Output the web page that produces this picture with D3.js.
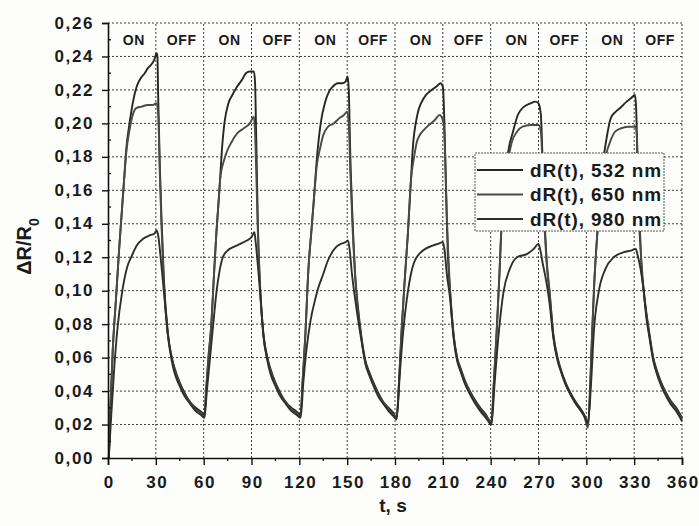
<!DOCTYPE html>
<html>
<head>
<meta charset="utf-8">
<script src="https://cdn.jsdelivr.net/npm/d3@7"></script>
<style>
  body { margin: 0; background: #fdfdfb; }
  svg { display: block; font-family: "Liberation Sans", Arial, sans-serif; }
  .tick-label { font-size: 17px; font-weight: bold; fill: #1a1a1a; letter-spacing: 1.6px; }
</style>
</head>
<body>
<div id="chart"></div>
<script>
var w = 699, h = 526;

// tick values and labels
var xTicks = [0, 30, 60, 90, 120, 150, 180, 210, 240, 270, 300, 330, 360];
var yTicks = [0, 0.02, 0.04, 0.06, 0.08, 0.10, 0.12, 0.14, 0.16, 0.18, 0.20, 0.22, 0.24, 0.26];
var phaseLabels = ["ON", "OFF", "ON", "OFF", "ON", "OFF", "ON", "OFF", "ON", "OFF", "ON", "OFF"];
var seriesNames = ["dR(t), 532 nm", "dR(t), 650 nm", "dR(t), 980 nm"];

// dR(t), 532 nm  [t (s), dR/R0]
var dr532 = [
  [0.5,0],[1.5,0.03],[3,0.065],[5,0.095],[7,0.125],[8.5,0.145],[10,0.165],[11.5,0.185],[13.5,0.2],
  [15.5,0.212],[18,0.222],[20.5,0.227],[23,0.23],[25,0.233],[27,0.235],[29,0.238],[30.5,0.242],
  [31,0.24],[31.5,0.215],[32.5,0.175],[33.5,0.145],[35,0.108],[37.5,0.075],[40,0.06],[42,0.053],
  [45,0.045],[48,0.039],[51,0.034],[55,0.03],[58,0.028],[60.5,0.026],
  [61.5,0.04],[63,0.06],[64.8,0.08],[66.5,0.11],[68,0.135],[69.5,0.155],[70.5,0.17],[71.5,0.185],
  [73,0.2],[75.5,0.212],[78,0.217],[81,0.222],[84,0.226],[86.5,0.23],[89,0.231],[91.5,0.231],
  [92.2,0.225],[93,0.19],[94,0.14],[95.5,0.1],[97.5,0.074],[100,0.06],[102,0.053],[105,0.045],
  [108,0.039],[111,0.034],[115,0.03],[118,0.028],[120.8,0.026],
  [122,0.045],[123.8,0.074],[125.7,0.113],[127.5,0.135],[129,0.153],[131,0.179],[133.4,0.2],
  [136,0.212],[138.6,0.219],[141,0.222],[144,0.224],[147,0.224],[149,0.225],[150.3,0.228],
  [151,0.22],[152,0.18],[153.5,0.14],[155,0.11],[156.8,0.09],[159,0.072],[161.5,0.058],
  [164,0.051],[167,0.044],[170,0.038],[173,0.033],[176,0.03],[179,0.027],[181,0.024],
  [182.5,0.045],[184,0.074],[186,0.105],[188,0.133],[190,0.166],[191,0.183],[194,0.205],
  [198,0.215],[203,0.22],[206,0.222],[208.6,0.224],[210,0.222],[211,0.2],[212,0.16],[213,0.125],
  [214.6,0.099],[216.7,0.074],[219,0.06],[221,0.054],[224,0.046],[227,0.04],[230,0.035],
  [233.5,0.03],[237,0.026],[240.5,0.021],
  [242,0.045],[244,0.08],[245.5,0.11],[247,0.143],[249,0.165],[251,0.183],[254,0.195],[257,0.205],
  [261,0.21],[265,0.212],[268,0.213],[270,0.212],[271.5,0.205],[272.5,0.18],[273.5,0.15],
  [275,0.12],[277,0.099],[279.3,0.074],[282,0.06],[284,0.053],[287,0.045],[290,0.039],
  [293,0.034],[296,0.03],[299,0.025],[301,0.019],
  [302.5,0.045],[303.6,0.074],[305,0.105],[306.8,0.133],[308.5,0.155],[310,0.173],[312.5,0.19],
  [315.3,0.203],[318.5,0.207],[321,0.209],[325.3,0.213],[328,0.215],[330.5,0.217],[331.2,0.21],
  [332,0.18],[333,0.145],[334.5,0.118],[336,0.1],[337.5,0.088],[339.6,0.074],[342,0.06],
  [344,0.053],[347,0.045],[350,0.039],[353,0.034],[356.4,0.03],[360,0.024]
];

// dR(t), 650 nm
var dr650 = [
  [0.5,0],[1.5,0.03],[3,0.065],[5,0.095],[7,0.125],[8.5,0.145],[10,0.165],[11.5,0.183],[13.5,0.196],
  [15.5,0.205],[17.5,0.209],[21,0.21],[25,0.211],[28,0.211],[30.5,0.212],[31.5,0.205],
  [32.5,0.17],[33.5,0.14],[35,0.105],[37.5,0.074],[40,0.06],[42,0.052],[45,0.044],[48,0.038],
  [51,0.034],[55,0.029],[58,0.027],[60.5,0.025],
  [61.5,0.04],[63,0.06],[64.8,0.08],[66.5,0.11],[68,0.135],[69.5,0.155],[70.5,0.168],[72.5,0.177],
  [74.5,0.183],[77,0.188],[81,0.194],[85,0.197],[89,0.2],[91.5,0.204],[92.2,0.195],[93,0.17],
  [94,0.135],[95.5,0.1],[97.5,0.073],[100,0.059],[102,0.052],[105,0.044],[108,0.038],[111,0.034],
  [115,0.029],[118,0.027],[120.8,0.025],
  [122,0.045],[123.8,0.074],[125.7,0.113],[127.5,0.135],[129,0.153],[131,0.175],[133,0.185],
  [135,0.193],[138,0.198],[141.6,0.2],[145,0.203],[148,0.205],[150,0.207],[151,0.2],[152,0.17],
  [153.5,0.135],[155,0.108],[156.8,0.088],[159,0.071],[161.5,0.057],[164,0.05],[167,0.043],
  [170,0.037],[173,0.033],[176,0.029],[179,0.026],[181,0.024],
  [182.5,0.045],[184,0.074],[186,0.105],[188,0.133],[190,0.166],[192,0.18],[194,0.19],
  [199,0.197],[205,0.202],[208,0.205],[210.5,0.2],[211.5,0.18],[212.5,0.145],[213.5,0.12],
  [214.6,0.099],[216.7,0.074],[219,0.059],[221,0.053],[224,0.045],[227,0.039],[230,0.034],
  [233.5,0.029],[237,0.025],[240.5,0.022],
  [242,0.045],[244,0.08],[245.5,0.11],[247,0.143],[249,0.163],[251,0.178],[253,0.188],
  [256.5,0.195],[260,0.198],[265,0.199],[270,0.199],[271.5,0.195],[272.5,0.175],[273.5,0.145],
  [275,0.118],[277,0.098],[279.3,0.073],[282,0.059],[284,0.052],[287,0.044],[290,0.038],
  [293,0.033],[296,0.029],[299,0.024],[301,0.018],
  [302.5,0.045],[303.6,0.074],[305,0.105],[306.8,0.133],[308.5,0.155],[310,0.17],[312,0.18],
  [315.3,0.19],[318,0.195],[321.6,0.197],[326,0.198],[331,0.198],[331.8,0.19],[332.5,0.17],
  [333.5,0.14],[334.5,0.115],[336,0.099],[337.5,0.087],[339.6,0.073],[342,0.059],[344,0.052],
  [347,0.044],[350,0.038],[353,0.033],[356.4,0.029],[360,0.023]
];

// dR(t), 980 nm
var dr980 = [
  [0.5,0],[2,0.025],[4,0.055],[6,0.078],[9,0.1],[12,0.114],[15,0.121],[18,0.127],[22,0.131],
  [26,0.133],[29,0.134],[30.5,0.136],[31.5,0.133],[33,0.12],[35,0.1],[37.5,0.074],[40,0.058],
  [42,0.05],[45,0.043],[48,0.037],[51,0.033],[55,0.028],[58,0.026],[60.5,0.024],
  [62,0.04],[64,0.06],[66,0.08],[68,0.099],[70,0.112],[72,0.12],[75,0.124],[78.5,0.126],
  [83,0.128],[87,0.13],[90,0.132],[91.8,0.135],[92.5,0.13],[94,0.115],[95.5,0.098],[97.5,0.073],
  [100,0.058],[102,0.05],[105,0.043],[108,0.037],[111,0.033],[115,0.028],[118,0.026],[120.8,0.024],
  [122.5,0.045],[124.5,0.065],[127,0.082],[130,0.095],[132,0.102],[135,0.11],[137.5,0.117],
  [140,0.122],[143,0.126],[146,0.128],[149,0.129],[150.5,0.13],[151.5,0.125],[153,0.11],
  [155,0.095],[156.8,0.083],[159,0.07],[161.5,0.056],[164,0.049],[167,0.042],[170,0.036],
  [173,0.032],[176,0.028],[179,0.025],[181,0.023],
  [183,0.05],[185,0.074],[188,0.099],[190,0.11],[192,0.117],[197.5,0.124],[203.7,0.127],
  [207,0.128],[210,0.129],[211,0.125],[212.5,0.11],[214.6,0.095],[216.7,0.072],[219,0.058],
  [221,0.052],[224,0.044],[227,0.038],[230,0.033],[233.5,0.028],[237,0.024],[240.5,0.02],
  [242.5,0.045],[245,0.074],[248,0.099],[252,0.113],[256.5,0.12],[263,0.122],[267,0.125],
  [270,0.128],[271,0.125],[272.5,0.117],[275,0.105],[277,0.092],[279.3,0.072],[282,0.058],
  [284,0.052],[287,0.044],[290,0.038],[293,0.033],[296,0.029],[299,0.025],[301,0.021],
  [303,0.045],[304.6,0.074],[307.7,0.099],[312,0.113],[317.2,0.12],[323.6,0.123],[328,0.124],
  [331,0.125],[332,0.122],[334,0.113],[336,0.1],[337.5,0.085],[339.6,0.072],[342,0.058],
  [344,0.051],[347,0.043],[350,0.037],[353,0.032],[356.4,0.028],[360,0.022]
];

var series = [
  { name: seriesNames[0], data: dr532, color: "#262626" },
  { name: seriesNames[1], data: dr650, color: "#4a4a4a" },
  { name: seriesNames[2], data: dr980, color: "#2e2e2e" }
];

var margin = { left: 108, right: 17, top: 23, bottom: 68 };

var svg = d3.select("#chart").append("svg")
    .attr("width", w).attr("height", h);

var x = d3.scaleLinear().domain([0, 360]).range([margin.left, w - margin.right]);
var y = d3.scaleLinear().domain([0, 0.26]).range([h - margin.bottom, margin.top]);

// dotted grid, also closes the frame on top and right
var grid = svg.append("g").attr("stroke", "#3c3c3c").attr("stroke-width", 1)
    .attr("stroke-dasharray", "2,2");
grid.selectAll("line.gx").data(xTicks.slice(1)).enter().append("line")
    .attr("x1", d => x(d)).attr("x2", d => x(d))
    .attr("y1", y(0)).attr("y2", y(0.26));
grid.selectAll("line.gy").data(yTicks.slice(1)).enter().append("line")
    .attr("x1", x(0)).attr("x2", x(360))
    .attr("y1", d => y(d)).attr("y2", d => y(d));

// ON / OFF labels in the top row
svg.append("g").selectAll("text").data(phaseLabels).enter().append("text")
    .attr("x", (d, i) => x(i * 30 + 15) + 2)
    .attr("y", y(0.25) + 5)
    .attr("text-anchor", "middle")
    .attr("font-size", "14px").attr("font-weight", "bold")
    .attr("letter-spacing", "0.6px")
    .attr("fill", "#1a1a1a")
    .text(d => d);

// curves
var line = d3.line()
    .x(d => x(d[0])).y(d => y(d[1]))
    .curve(d3.curveMonotoneX);

svg.append("g").selectAll("path").data(series).enter().append("path")
    .attr("fill", "none")
    .attr("stroke", d => d.color)
    .attr("stroke-width", 1.9)
    .attr("stroke-linejoin", "round")
    .attr("d", d => line(d.data));

// axes
var xAxis = d3.axisBottom(x).tickValues(xTicks).tickSize(7).tickFormat(d3.format("d"));
var gx = svg.append("g").attr("transform", "translate(0," + y(0) + ")").call(xAxis);
gx.select(".domain").attr("stroke", "#111").attr("stroke-width", 1.6);
gx.selectAll(".tick line").attr("stroke", "#111").attr("stroke-width", 1.4);
gx.selectAll(".tick text").attr("class", "tick-label").attr("y", 30).attr("dy", 0)
    .attr("dx", "0.05em");

// minor x ticks
svg.append("g").selectAll("line").data(d3.range(15, 360, 30)).enter().append("line")
    .attr("x1", d => x(d)).attr("x2", d => x(d))
    .attr("y1", y(0)).attr("y2", y(0) + 3)
    .attr("stroke", "#111").attr("stroke-width", 1.3);

var yAxis = d3.axisLeft(y).tickValues(yTicks).tickSize(6)
    .tickFormat(d => d3.format(".2f")(d).replace(".", ","));
var gy = svg.append("g").attr("transform", "translate(" + x(0) + ",0)").call(yAxis);
gy.select(".domain").attr("stroke", "#111").attr("stroke-width", 1.6);
gy.selectAll(".tick line").attr("stroke", "#111").attr("stroke-width", 1.4);
gy.selectAll(".tick text").attr("class", "tick-label").attr("x", -14).attr("dy", "0.3em");

// minor y ticks
svg.append("g").selectAll("line").data(d3.range(0.01, 0.26, 0.02)).enter().append("line")
    .attr("x1", x(0)).attr("x2", x(0) + 3)
    .attr("y1", d => y(d)).attr("y2", d => y(d))
    .attr("stroke", "#111").attr("stroke-width", 1.3);

// axis titles
svg.append("text")
    .attr("x", (x(0) + x(360)) / 2 - 2).attr("y", h - 14)
    .attr("text-anchor", "middle")
    .attr("font-size", "19px").attr("font-weight", "bold").attr("fill", "#1a1a1a")
    .text("t, s");

var yTitle = svg.append("text")
    .attr("transform", "translate(31," + (y(0.13) + 6) + ") rotate(-90)")
    .attr("text-anchor", "middle")
    .attr("font-size", "20px").attr("font-weight", "bold").attr("fill", "#1a1a1a");
yTitle.append("tspan").text("\u0394R/R");
yTitle.append("tspan").attr("baseline-shift", "sub").attr("font-size", "14px").text("0");

// legend
var lg = svg.append("g").attr("transform", "translate(475,153)");
lg.append("rect")
    .attr("width", 189).attr("height", 78)
    .attr("fill", "#fdfdfb")
    .attr("stroke", "#555").attr("stroke-width", 1)
    .attr("stroke-dasharray", "2,1");
var items = lg.selectAll("g.item").data(series).enter().append("g")
    .attr("transform", (d, i) => "translate(0," + (17 + i * 24.5) + ")");
items.append("line")
    .attr("x1", 2).attr("x2", 48)
    .attr("stroke", d => d.color).attr("stroke-width", 2);
items.append("text")
    .attr("x", 187).attr("dy", "0.36em")
    .attr("text-anchor", "end")
    .attr("font-size", "19px").attr("font-weight", "bold")
    .attr("letter-spacing", "0.9px")
    .attr("fill", "#1a1a1a")
    .text(d => d.name);
</script>
</body>
</html>
